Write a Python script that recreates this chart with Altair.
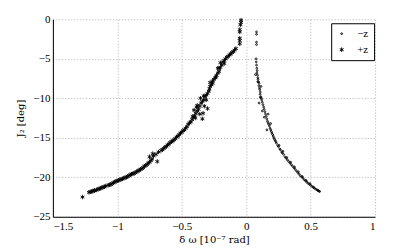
import altair as alt
import pandas as pd

# +z series (asterisks)
plus_x = [-1.27, -1.22, -1.21, -1.20, -1.19, -1.18, -1.16, -1.15, -1.13, -1.12, -1.10, -1.09,
          -1.07, -1.05, -1.04, -1.02, -1.01, -0.99, -0.98, -0.96, -0.95, -0.93, -0.92, -0.90,
          -0.89, -0.87, -0.86, -0.84, -0.83, -0.81, -0.80, -0.79, -0.78, -0.77, -0.76, -0.75,
          -0.74, -0.73, -0.72, -0.725, -0.70, -0.75, -0.69, -0.68, -0.66, -0.65, -0.63, -0.62,
          -0.61, -0.60, -0.59, -0.57, -0.55, -0.54, -0.53, -0.52, -0.51, -0.50, -0.49, -0.48,
          -0.47, -0.46, -0.45, -0.44, -0.43, -0.42, -0.41, -0.415, -0.40, -0.39, -0.385, -0.38,
          -0.37, -0.36, -0.35, -0.34, -0.335, -0.33, -0.32, -0.31, -0.31, -0.30, -0.29, -0.285,
          -0.28, -0.27, -0.26, -0.26, -0.25, -0.24, -0.235, -0.23, -0.22, -0.21, -0.21, -0.20,
          -0.19, -0.18, -0.17, -0.17, -0.16, -0.15, -0.14, -0.13, -0.12, -0.11, -0.10, -0.09,
          -0.08, -0.05, -0.05, -0.05, -0.05, -0.05, -0.045, -0.04, -0.04, -0.36, -0.34, -0.30,
          -0.38, -0.33, -0.28, -0.22, -0.20, -1.175, -1.14, -1.11, -1.06, -1.03, -1.00, -0.97,
          -0.94, -0.91, -0.88, -0.85, -0.82, -0.64, -0.58, -0.56, -0.405, -0.395, -0.355, -0.325]
plus_y = [-22.5, -21.9, -21.85, -21.8, -21.75, -21.7, -21.6, -21.5, -21.4, -21.3, -21.2, -21.1,
          -21.0, -20.9, -20.8, -20.6, -20.5, -20.4, -20.3, -20.2, -20.1, -20.0, -19.9, -19.7,
          -19.6, -19.5, -19.4, -19.2, -19.1, -18.9, -18.8, -18.6, -18.5, -18.4, -18.2, -18.1,
          -17.9, -17.7, -17.3, -17.0, -17.1, -17.4, -18.0, -16.8, -16.6, -16.5, -16.2, -16.1,
          -15.9, -15.8, -15.6, -15.4, -15.1, -14.9, -14.8, -14.6, -14.4, -14.3, -14.1, -14.0,
          -13.8, -13.6, -13.3, -13.1, -13.0, -12.7, -12.4, -12.3, -12.2, -11.9, -11.1, -11.6,
          -11.4, -11.0, -10.6, -10.4, -11.9, -10.2, -9.8, -10.2, -9.6, -9.4, -9.1, -8.8,
          -8.5, -8.3, -8.1, -7.8, -7.6, -7.4, -7.3, -7.1, -6.8, -6.6, -6.2, -6.1,
          -5.8, -5.4, -5.2, -5.6, -5.0, -4.8, -4.7, -4.5, -4.4, -4.2, -4.1, -3.9,
          -3.7, -3.1, -2.7, -2.4, -1.6, -1.3, -0.7, -0.4, -0.1, -12.0, -12.6, -11.3,
          -10.9, -9.7, -8.0, -6.2, -5.5, -21.65, -21.45, -21.25, -20.95, -20.7, -20.45, -20.25,
          -20.05, -19.8, -19.55, -19.3, -19.0, -16.35, -15.5, -15.25, -11.5, -12.5, -10.0, -11.0]

# -z series (small dots)
minus_x = [0.08, 0.08, 0.08, 0.08, 0.077, 0.078, 0.08, 0.082, 0.085, 0.083, 0.088, 0.09,
           0.092, 0.095, 0.10, 0.098, 0.103, 0.105, 0.11, 0.108, 0.113, 0.118, 0.12, 0.125,
           0.13, 0.135, 0.14, 0.145, 0.15, 0.155, 0.16, 0.165, 0.17, 0.175, 0.18, 0.185,
           0.19, 0.195, 0.20, 0.21, 0.215, 0.22, 0.23, 0.235, 0.245, 0.25, 0.26, 0.265,
           0.275, 0.28, 0.29, 0.30, 0.31, 0.32, 0.33, 0.34, 0.35, 0.36, 0.37, 0.38,
           0.39, 0.40, 0.41, 0.42, 0.43, 0.44, 0.45, 0.46, 0.47, 0.48, 0.49, 0.50,
           0.51, 0.52, 0.53, 0.54, 0.55, 0.56, 0.565, 0.57,
           0.072, 0.09, 0.115, 0.10, 0.125, 0.17, 0.16, 0.19, 0.11, 0.14,
           0.205, 0.225, 0.255, 0.285, 0.315, 0.345, 0.375, 0.405, 0.435, 0.465, 0.495, 0.525, 0.555]
minus_y = [-1.6, -1.9, -2.9, -3.2, -5.0, -5.4, -5.8, -6.2, -6.5, -6.8, -7.1, -7.4,
           -7.6, -7.9, -8.1, -8.4, -8.7, -8.9, -9.2, -9.5, -9.8, -10.0, -10.2, -10.5,
           -10.8, -11.1, -11.4, -11.7, -12.0, -12.3, -12.6, -12.9, -13.1, -13.3, -13.5, -13.8,
           -14.0, -14.2, -14.4, -14.8, -15.0, -15.2, -15.5, -15.7, -16.0, -16.1, -16.4, -16.5,
           -16.8, -16.9, -17.1, -17.4, -17.6, -17.8, -18.0, -18.2, -18.4, -18.6, -18.8, -19.0,
           -19.2, -19.4, -19.6, -19.8, -19.95, -20.1, -20.3, -20.45, -20.6, -20.75, -20.9, -21.0,
           -21.15, -21.25, -21.4, -21.5, -21.6, -21.7, -21.75, -21.8,
           -7.0, -7.9, -8.5, -10.6, -11.6, -12.0, -14.0, -13.2, -9.9, -12.4,
           -14.6, -15.35, -15.95, -16.7, -17.5, -18.1, -18.7, -19.3, -19.9, -20.4, -20.8, -21.3, -21.65]

x_ticks = [-1.5, -1, -0.5, 0, 0.5, 1]
y_ticks = [0, -5, -10, -15, -20, -25]
series_names = ["\u2212z", "+z"]

df = pd.concat([
    pd.DataFrame({"x": minus_x, "y": minus_y, "series": series_names[0]}),
    pd.DataFrame({"x": plus_x, "y": plus_y, "series": series_names[1]}),
])

asterisk = "M0,-1L0,1M-0.87,-0.5L0.87,0.5M-0.87,0.5L0.87,-0.5"
label_font = "Liberation Serif"
title_font = "DejaVu Serif"

chart = alt.Chart(df).mark_point(filled=False, strokeWidth=0.9, opacity=1).encode(
    x=alt.X("x:Q", scale=alt.Scale(domain=[-1.5, 1], nice=False),
            title="\u03b4 \u03c9 [10\u207b\u2077 rad]",
            axis=alt.Axis(values=x_ticks, format="~g", labelPadding=4, titlePadding=3)),
    y=alt.Y("y:Q", scale=alt.Scale(domain=[-25, 0], nice=False),
            title="J\u2082 [deg]",
            axis=alt.Axis(values=y_ticks, format="~g", labelPadding=3, titlePadding=7)),
    color=alt.Color("series:N", scale=alt.Scale(domain=series_names, range=["black", "black"]),
                    title=None),
    shape=alt.Shape("series:N", scale=alt.Scale(domain=series_names, range=["circle", asterisk]),
                    title=None),
    size=alt.Size("series:N", scale=alt.Scale(domain=series_names, range=[3, 20]), title=None),
).properties(
    width=323, height=198, autosize="none",
    padding={"left": 45, "top": 11, "right": 32, "bottom": 32},
).configure_view(strokeOpacity=0).configure_axis(
    labelFont=label_font, titleFont=title_font, labelFontSize=11, titleFontSize=10,
    labelColor="black", titleColor="black", titleFontWeight="normal",
    domainColor="black", domainWidth=1, ticks=False,
    gridColor="#b0b0b0", gridDash=[1, 2], gridWidth=1,
).configure_legend(
    orient="none", legendX=279, legendY=4, strokeColor="black", fillColor="white",
    padding=5, labelFont=label_font, labelFontSize=11, labelColor="black",
    rowPadding=4, symbolStrokeColor="black", symbolStrokeWidth=1, labelOffset=10,
    cornerRadius=0,
)

chart.save("out.html", embed_options={"renderer": "svg", "actions": False})
